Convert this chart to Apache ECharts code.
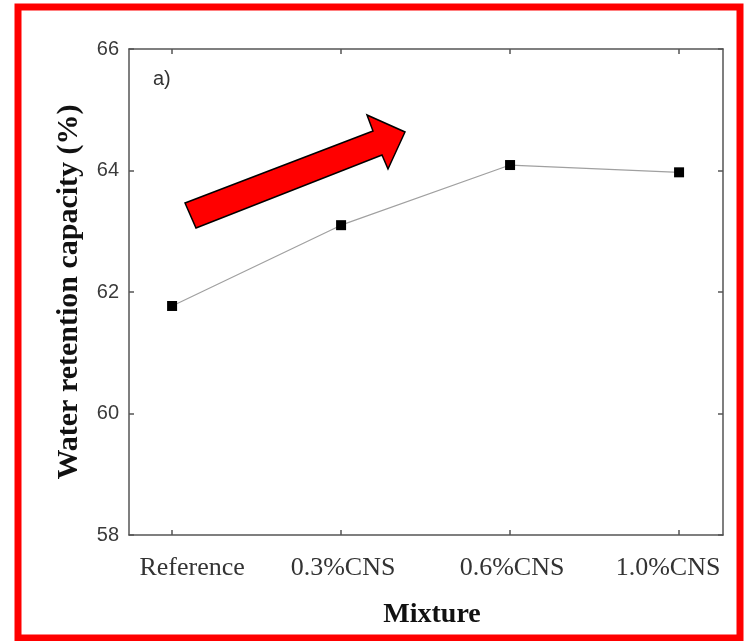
<!DOCTYPE html>
<html><head><meta charset="utf-8">
<script src="https://cdn.jsdelivr.net/npm/echarts@6/dist/echarts.min.js"></script>
<style>html,body{margin:0;padding:0;background:#fff}#c{width:744px;height:641px}</style>
</head><body><div id="c"></div>
<script>
var categories = ['Reference', '0.3%CNS', '0.6%CNS', '1.0%CNS'];
var waterRetention = [61.77, 63.10, 64.09, 63.97];
var yTicks = [58, 60, 62, 64, 66];
var xTickPositions = [0, 1, 2, 3];

var chart = echarts.init(document.getElementById('c'), null, {renderer: 'canvas'});
var axisCol = '#555';
var data = waterRetention.map(function (v, i) { return [xTickPositions[i], v]; });
var labelStyles = ['c0', 'c1', 'c2', 'c3'];

var baseX = {
  type: 'value', min: -0.255, max: 3.26,
  splitLine: {show: false},
  axisLine: {show: true, onZero: false, lineStyle: {color: axisCol, width: 1.5}},
  axisTick: {show: true, inside: true, length: 5, customValues: xTickPositions, lineStyle: {color: axisCol, width: 1.5}}
};
var baseY = {
  type: 'value', min: yTicks[0], max: yTicks[yTicks.length - 1], interval: 2,
  splitLine: {show: false},
  axisLine: {show: true, onZero: false, lineStyle: {color: axisCol, width: 1.5}},
  axisTick: {show: true, inside: true, length: 5, lineStyle: {color: axisCol, width: 1.5}}
};
var lblFont = {fontFamily: 'Liberation Serif', fontSize: 26, color: '#333'};

chart.setOption({
  animation: false,
  grid: {left: 129, right: 21, top: 49, bottom: 106, containLabel: false},
  xAxis: [
    Object.assign({}, baseX, {
      position: 'bottom',
      name: 'Mixture', nameLocation: 'middle', nameGap: 66,
      nameTextStyle: {fontFamily: 'Liberation Serif', fontWeight: 'bold', fontSize: 28, color: '#111', padding: [0, 0, 0, 12]},
      axisLabel: {show: true, customValues: xTickPositions, margin: 20,
        fontFamily: 'Liberation Serif', fontSize: 26, color: '#333',
        formatter: function (v) { var i = Math.round(v); return '{' + labelStyles[i] + '|' + categories[i] + '}'; },
        rich: {
          c0: Object.assign({padding: [0, 0, 0, 40]}, lblFont),
          c1: Object.assign({padding: [0, 0, 0, 4]}, lblFont),
          c2: Object.assign({padding: [0, 0, 0, 4]}, lblFont),
          c3: Object.assign({padding: [0, 22, 0, 0]}, lblFont)
        }}
    }),
    Object.assign({}, baseX, {position: 'top', axisLabel: {show: false}})
  ],
  yAxis: [
    Object.assign({}, baseY, {
      position: 'left',
      name: 'Water retention capacity (%)', nameLocation: 'middle', nameGap: 45,
      nameTextStyle: {fontFamily: 'Liberation Serif', fontWeight: 'bold', fontSize: 30, color: '#111'},
      axisLabel: {show: true, margin: 10, fontFamily: 'Liberation Sans', fontSize: 20, color: '#3a3a3a'}
    }),
    Object.assign({}, baseY, {position: 'right', axisLabel: {show: false}})
  ],
  graphic: [
    {type: 'rect', shape: {x: 18, y: 7, width: 722, height: 631},
     style: {fill: 'none', stroke: '#ff0000', lineWidth: 7}, z: 100},
    {type: 'text', left: 153, top: 69,
     style: {text: 'a)', font: '20px "Liberation Sans"', fill: '#333'}},
    {type: 'polygon', z: 50,
     shape: {points: [[185, 203], [373, 131], [367, 115], [405, 132], [388, 169], [382, 155], [196, 228]]},
     style: {fill: '#ff0000', stroke: '#000', lineWidth: 1.5}}
  ],
  series: [{
    type: 'line', xAxisIndex: 0, yAxisIndex: 0,
    data: data,
    symbol: 'rect', symbolSize: 10,
    itemStyle: {color: '#000'},
    lineStyle: {color: '#a0a0a0', width: 1.2}
  }]
});
</script></body></html>
